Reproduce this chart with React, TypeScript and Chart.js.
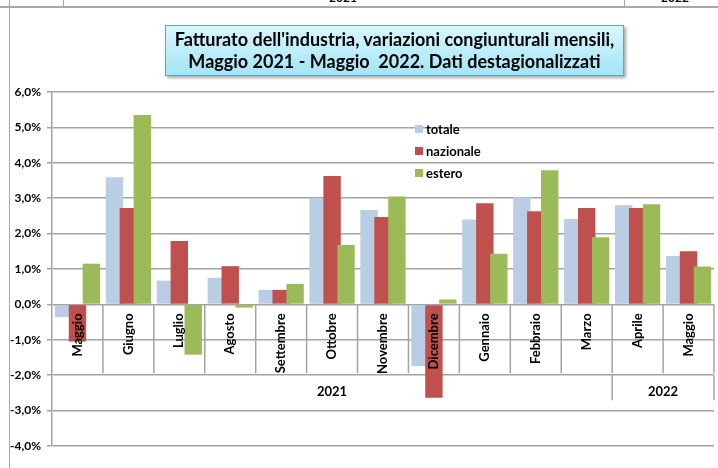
import React, { useEffect, useRef } from "react";
import { Chart, registerables } from "chart.js";

Chart.register(...registerables);

// ---- data ----
const categories = [
  "Maggio", "Giugno", "Luglio", "Agosto", "Settembre", "Ottobre", "Novembre",
  "Dicembre", "Gennaio", "Febbraio", "Marzo", "Aprile", "Maggio",
];
const totale = [-0.36, 3.59, 0.67, 0.75, 0.41, 3.0, 2.67, -1.74, 2.4, 3.03, 2.41, 2.8, 1.37];
const nazionale = [-1.05, 2.72, 1.79, 1.08, 0.41, 3.63, 2.47, -2.64, 2.86, 2.63, 2.72, 2.72, 1.5];
const estero = [1.15, 5.35, -1.42, -0.09, 0.58, 1.68, 3.05, 0.14, 1.43, 3.79, 1.9, 2.83, 1.07];
const seriesNames = ["totale", "nazionale", "estero"];
const seriesColors = ["#B9CDE5", "#C0504D", "#9BBB59"];
const yearLabels = ["2021", "2022"];
const yearFrom = [0, 11];
const yearTo = [10, 12];
const titleLines = [
  "Fatturato dell'industria, variazioni congiunturali mensili,",
  "Maggio 2021 - Maggio  2022. Dati destagionalizzati",
];
const topStripYears = ["2021", "2022"];

const FONT = "Lato, 'DejaVu Sans', sans-serif";
const LINE = "#a3a3a3";

const excelPlugin = {
  id: "excelLook",
  beforeDatasetsDraw(chart: any) {
    // draw series in order so that later series overlap earlier ones
    for (let i = 0; i < chart.data.datasets.length; i++) {
      const meta = chart.getDatasetMeta(i);
      if (!meta.hidden) meta.controller.draw();
    }
    return false;
  },
  afterDraw(chart: any) {
    const { ctx } = chart;
    const x = chart.scales.x;
    const y = chart.scales.y;
    const y0 = y.getPixelForValue(0);
    const yLow = y.getPixelForValue(-2);
    const n = chart.data.labels.length;
    const half = (x.getPixelForValue(1) - x.getPixelForValue(0)) / 2;
    const line = (x1: number, y1: number, x2: number, y2: number) => {
      ctx.beginPath();
      ctx.moveTo(x1, y1);
      ctx.lineTo(x2, y2);
      ctx.stroke();
    };
    ctx.save();
    ctx.strokeStyle = LINE;
    ctx.lineWidth = 1.5;
    for (let i = 0; i < n; i++) {
      const bx = x.getPixelForValue(i) + half;
      line(bx, y0, bx, yLow - 2);
    }
    ctx.fillStyle = "#000";
    ctx.font = `bold 13px ${FONT}`;
    ctx.textAlign = "center";
    ctx.textBaseline = "middle";
    for (let g = 0; g < yearLabels.length; g++) {
      const left = x.getPixelForValue(yearFrom[g]) - half;
      const right = x.getPixelForValue(yearTo[g]) + half;
      line(right, yLow, right, yLow + 25);
      ctx.fillText(yearLabels[g], (left + right) / 2, yLow + 17);
    }
    // category labels, rotated
    ctx.font = `bold 13px ${FONT}`;
    ctx.textAlign = "right";
    for (let i = 0; i < n; i++) {
      ctx.save();
      ctx.translate(x.getPixelForValue(i), y0 + 9);
      ctx.rotate(-Math.PI / 2);
      ctx.fillText(chart.data.labels[i], 0, 0);
      ctx.restore();
    }
    // legend inside plot
    ctx.font = `bold 13px ${FONT}`;
    ctx.textAlign = "left";
    const lx = 415;
    const ly = 129;
    chart.data.datasets.forEach((ds: any, i: number) => {
      const cy = ly + i * 22;
      ctx.fillStyle = ds.backgroundColor;
      ctx.fillRect(lx, cy - 4, 8, 8);
      ctx.fillStyle = "#000";
      ctx.fillText(ds.label, lx + 11, cy + 1);
    });
    ctx.restore();
  },
};

export default function App() {
  const ref = useRef<HTMLCanvasElement | null>(null);

  useEffect(() => {
    if (!ref.current) return;
    const data = [totale, nazionale, estero];
    const chart = new Chart(ref.current, {
      type: "bar",
      data: {
        labels: categories,
        datasets: seriesNames.map((name, i) => ({
          label: name,
          data: data[i],
          backgroundColor: seriesColors[i],
          borderWidth: 0,
          categoryPercentage: 0.82,
          barPercentage: 1.25,
        })),
      },
      options: {
        animation: false,
        responsive: false,
        maintainAspectRatio: false,
        layout: { padding: { left: 0, top: 92, right: 4, bottom: 22 } },
        plugins: {
          legend: { display: false },
          title: { display: false },
          tooltip: { enabled: false },
        },
        scales: {
          x: { display: false, offset: true },
          y: {
            min: -4,
            max: 6,
            afterFit: (scale: any) => {
              scale.width = 52;
            },
            border: { display: true, color: LINE, width: 1.5 },
            grid: { color: LINE, lineWidth: 1.5, tickLength: 5, drawTicks: true },
            ticks: {
              stepSize: 1,
              padding: 6,
              color: "#000",
              font: { family: FONT, weight: "bold", size: 12 },
              callback: (v: any) => Number(v).toFixed(1).replace(".", ",") + "%",
            },
          },
        },
      },
      plugins: [excelPlugin],
    } as any);
    return () => chart.destroy();
  }, []);

  return (
    <div
      style={{
        position: "absolute",
        left: 0,
        top: 0,
        width: 718,
        height: 468,
        overflow: "hidden",
        background: "#fff",
        fontFamily: FONT,
      }}
    >
      <canvas ref={ref} width={718} height={468} style={{ position: "absolute", left: 0, top: 0 }} />
      {/* cut-off table strip at the top */}
      <div style={{ position: "absolute", left: 0, top: 0, width: 718, height: 7, overflow: "hidden" }}>
        <div style={{ position: "absolute", left: 313, width: 60, top: -9, textAlign: "center", fontWeight: "bold", fontSize: 12, lineHeight: "14px" }}>
          {topStripYears[0]}
        </div>
        <div style={{ position: "absolute", left: 645, width: 60, top: -9, textAlign: "center", fontWeight: "bold", fontSize: 12, lineHeight: "14px" }}>
          {topStripYears[1]}
        </div>
      </div>
      <div style={{ position: "absolute", left: 0, top: 6, width: 718, height: 2, background: "#a8a8a8" }} />
      <div style={{ position: "absolute", left: 63, top: 0, width: 1, height: 7, background: "#a8a8a8" }} />
      <div style={{ position: "absolute", left: 624, top: 0, width: 1, height: 7, background: "#a8a8a8" }} />
      <div style={{ position: "absolute", left: 9, top: 0, width: 1, height: 468, background: "#a8a8a8" }} />
      {/* title box */}
      <div
        style={{
          position: "absolute",
          left: 165,
          top: 25,
          width: 459,
          height: 51,
          boxSizing: "border-box",
          border: "1px solid #5fa8bd",
          background: "linear-gradient(#d9f6fd, #a3e5f6)",
          boxShadow: "2px 2px 3px rgba(0,0,0,0.35)",
          textAlign: "center",
          fontWeight: "bold",
          fontSize: 18,
          lineHeight: "22px",
          paddingTop: 2,
          whiteSpace: "pre",
          color: "#000",
        }}
      >
        {titleLines[0]}
        {"\n"}
        {titleLines[1]}
      </div>
    </div>
  );
}
